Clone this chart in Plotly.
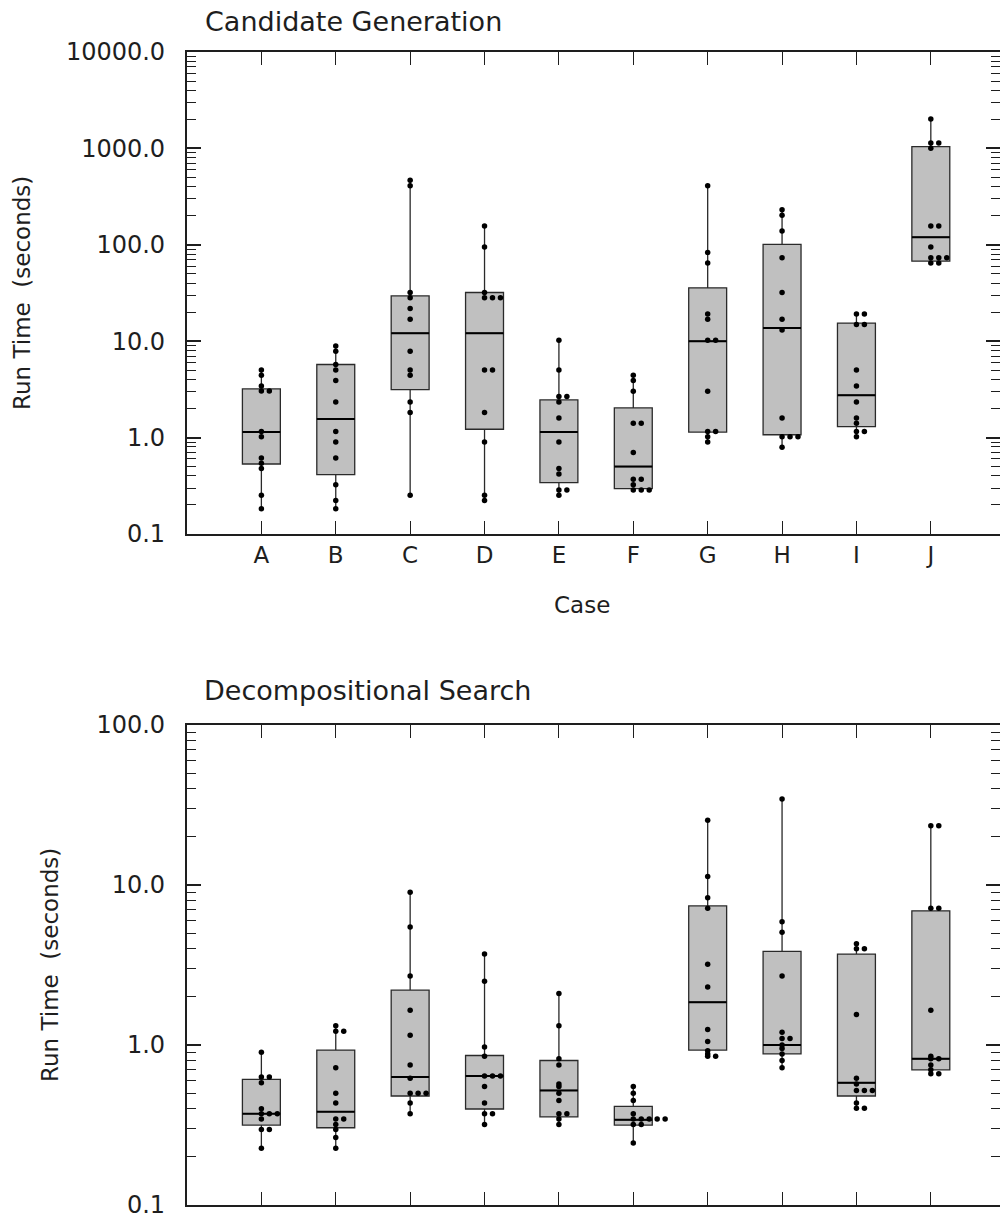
import plotly.graph_objects as go

categories = ["A", "B", "C", "D", "E", "F", "G", "H", "I", "J"]

# ---------------- Candidate Generation (run time, seconds) ----------------
cg_A = [5.03, 4.43, 3.43, 3.05, 3.05, 1.16, 1.02, 0.614, 0.541, 0.477, 0.252, 0.183]
cg_B = [8.93, 7.87, 5.73, 5.03, 3.91, 2.34, 1.16, 0.90, 0.614, 0.325, 0.222, 0.183]
cg_C = [466, 410, 32.0, 28.2, 21.9, 16.9, 7.87, 5.04, 4.43, 2.34, 1.82, 0.252]
cg_D = [157, 94.6, 32.0, 28.2, 28.2, 28.2, 5.04, 5.04, 1.82, 0.90, 0.252, 0.222]
cg_E = [10.2, 5.04, 2.67, 2.67, 2.34, 1.60, 0.90, 0.477, 0.419, 0.286, 0.286, 0.252]
cg_F = [4.43, 3.91, 3.03, 1.41, 1.41, 0.699, 0.369, 0.369, 0.325, 0.286, 0.286, 0.286]
cg_G = [410, 83.4, 64.6, 19.2, 16.9, 10.2, 10.2, 3.03, 1.16, 1.16, 1.02, 0.90]
cg_H = [231, 203, 139, 73.3, 32.0, 16.9, 13.1, 1.60, 1.02, 1.02, 1.02, 0.793]
cg_I = [19.2, 19.2, 14.9, 14.9, 5.04, 3.43, 2.34, 1.60, 1.41, 1.16, 1.16, 1.02]
cg_J = [2019, 1137, 1137, 1003, 157, 157, 94.6, 73.3, 73.3, 73.3, 64.6, 64.6]
cg_q1 = [0.532, 0.413, 3.15, 1.22, 0.341, 0.295, 1.14, 1.07, 1.30, 67.7]
cg_med = [1.14, 1.56, 12.1, 12.1, 1.14, 0.50, 10.0, 13.7, 2.75, 120]
cg_q3 = [3.2, 5.73, 29.5, 32.0, 2.46, 2.03, 35.8, 101, 15.4, 1042]

# ---------------- Decompositional Search (run time, seconds) ----------------
ds_A = [0.90, 0.63, 0.63, 0.58, 0.40, 0.372, 0.372, 0.372, 0.345, 0.296, 0.296, 0.226]
ds_B = [1.32, 1.22, 1.22, 0.72, 0.50, 0.434, 0.345, 0.345, 0.319, 0.296, 0.264, 0.226]
ds_C = [9.0, 5.46, 2.7, 1.65, 1.15, 0.75, 0.62, 0.50, 0.50, 0.50, 0.434, 0.372]
ds_D = [3.7, 2.5, 0.97, 0.85, 0.64, 0.64, 0.64, 0.55, 0.434, 0.372, 0.372, 0.319]
ds_E = [2.1, 1.32, 0.82, 0.75, 0.57, 0.55, 0.50, 0.45, 0.372, 0.372, 0.345, 0.319]
ds_F = [0.55, 0.50, 0.45, 0.372, 0.345, 0.345, 0.345, 0.345, 0.345, 0.319, 0.319, 0.244]
ds_G = [25.4, 11.3, 8.33, 7.15, 3.2, 2.3, 1.25, 1.05, 0.92, 0.88, 0.85, 0.85]
ds_H = [34.5, 5.9, 5.06, 2.7, 1.2, 1.1, 1.1, 1.0, 0.95, 0.88, 0.80, 0.72]
ds_I = [4.3, 4.0, 4.0, 1.55, 0.62, 0.57, 0.52, 0.52, 0.52, 0.434, 0.402, 0.402]
ds_J = [23.5, 23.5, 7.15, 7.15, 1.65, 0.85, 0.82, 0.82, 0.75, 0.70, 0.66, 0.66]
ds_q1 = [0.316, 0.304, 0.48, 0.398, 0.355, 0.316, 0.93, 0.88, 0.48, 0.70]
ds_med = [0.372, 0.383, 0.63, 0.64, 0.52, 0.341, 1.85, 1.0, 0.58, 0.82]
ds_q3 = [0.61, 0.93, 2.2, 0.86, 0.80, 0.414, 7.4, 3.85, 3.7, 6.9]

cg_ticks = [0.1, 1, 10, 100, 1000, 10000]
cg_ticklabels = ["0.1", "1.0", "10.0", "100.0", "1000.0", "10000.0"]
ds_ticks = [0.1, 1, 10, 100]
ds_ticklabels = ["0.1", "1.0", "10.0", "100.0"]

cg_points = [cg_A, cg_B, cg_C, cg_D, cg_E, cg_F, cg_G, cg_H, cg_I, cg_J]
ds_points = [ds_A, ds_B, ds_C, ds_D, ds_E, ds_F, ds_G, ds_H, ds_I, ds_J]

FONT = "DejaVu Sans"
INK = "#1e1e1e"
W, H = 1000, 1220
BOX_W = 0.51
DOT_STEP = 0.107  # horizontal shift for coincident values (category units)
NB = "\u00a0"


def dot_x(values, center):
    seen = {}
    xs = []
    for v in values:
        k = seen.get(v, 0)
        xs.append(center + k * DOT_STEP)
        seen[v] = k + 1
    return xs


fig = go.Figure()


def add_panel(points, q1, med, q3, xa, ya):
    pos = list(range(1, len(categories) + 1))
    fig.add_trace(go.Box(
        x=pos, q1=q1, median=med, q3=q3,
        lowerfence=[min(p) for p in points],
        upperfence=[max(p) for p in points],
        width=BOX_W, whiskerwidth=0,
        fillcolor="#c0c0c0",
        line=dict(color="#2a2a2a", width=1.3),
        boxpoints=False, hoverinfo="skip",
        xaxis=xa, yaxis=ya, showlegend=False,
    ))
    # slightly heavier median bars
    mx, my = [], []
    for c, m in zip(pos, med):
        mx += [c - BOX_W / 2, c + BOX_W / 2, None]
        my += [m, m, None]
    fig.add_trace(go.Scatter(
        x=mx, y=my, mode="lines", line=dict(color="black", width=2),
        xaxis=xa, yaxis=ya, showlegend=False, hoverinfo="skip",
    ))
    xs, ys = [], []
    for i, p in enumerate(points):
        xs += dot_x(p, pos[i])
        ys += p
    fig.add_trace(go.Scatter(
        x=xs, y=ys, mode="markers",
        marker=dict(color="black", size=5.5),
        xaxis=xa, yaxis=ya, showlegend=False, hoverinfo="skip",
    ))


add_panel(cg_points, cg_q1, cg_med, cg_q3, "x", "y")
add_panel(ds_points, ds_q1, ds_med, ds_q3, "x2", "y2")


def py(px):
    return 1 - px / H


def minor_vals(lo, hi):
    vals = []
    for d in range(lo, hi):
        for k in range(2, 10):
            vals.append(k * 10 ** d)
    return vals


x_dom = [0.187, 1.0]
x_rng = [0, 10.93]
common_x = dict(
    domain=x_dom, range=x_rng, tickmode="array",
    tickvals=list(range(1, 11)), ticktext=categories,
    ticks="inside", ticklen=13, tickwidth=1.3, tickcolor=INK,
    showline=True, linecolor=INK, linewidth=1.6, mirror="ticks",
    showgrid=False, zeroline=False, automargin=False,
    tickfont=dict(family=FONT, size=23, color=INK),
)
common_y = dict(
    type="log", ticks="inside", ticklen=14, tickwidth=1.6, tickcolor=INK,
    showline=True, linecolor=INK, linewidth=1.6, mirror="ticks",
    showgrid=False, zeroline=False, automargin=False, tickmode="array",
    tickfont=dict(family=FONT, size=24, color=INK),
)

fig.update_layout(
    template="none",
    width=W, height=H, margin=dict(l=0, r=0, t=0, b=0, autoexpand=False),
    paper_bgcolor="white", plot_bgcolor="white",
    showlegend=False,
    xaxis=dict(common_x, anchor="y"),
    yaxis=dict(common_y, anchor="x", domain=[py(534), py(52)], range=[-1, 4],
               tickvals=cg_ticks,
               ticktext=[t + NB * 2 for t in cg_ticklabels],
               minor=dict(ticks="inside", ticklen=9, tickwidth=1.3, tickcolor=INK,
                          tickvals=minor_vals(-1, 4))),
    xaxis2=dict(common_x, anchor="y2", showticklabels=False),
    yaxis2=dict(common_y, anchor="x2", domain=[py(1205), py(725)], range=[-1, 2],
                tickvals=ds_ticks,
                ticktext=[t + NB * 2 for t in ds_ticklabels],
                minor=dict(ticks="inside", ticklen=9, tickwidth=1.3, tickcolor=INK,
                           tickvals=minor_vals(-1, 2))),
)

ann_font = dict(family=FONT, color=INK)
fig.add_annotation(text="Candidate Generation", x=0.203, y=py(22), xref="paper", yref="paper",
                   xanchor="left", yanchor="middle", showarrow=False, font=dict(ann_font, size=27))
fig.add_annotation(text="Decompositional Search", x=0.2017, y=py(691), xref="paper", yref="paper",
                   xanchor="left", yanchor="middle", showarrow=False, font=dict(ann_font, size=27))
fig.add_annotation(text="Run Time" + NB + " (seconds)", x=22 / W, y=py(293), xref="paper", yref="paper",
                   xanchor="center", yanchor="middle", textangle=-90, showarrow=False,
                   font=dict(ann_font, size=23))
fig.add_annotation(text="Run Time" + NB + " (seconds)", x=50 / W, y=py(965), xref="paper", yref="paper",
                   xanchor="center", yanchor="middle", textangle=-90, showarrow=False,
                   font=dict(ann_font, size=23))
fig.add_annotation(text="Case", x=582 / W, y=py(605), xref="paper", yref="paper",
                   xanchor="center", yanchor="middle", showarrow=False, font=dict(ann_font, size=23))

fig.write_html("out.html")
